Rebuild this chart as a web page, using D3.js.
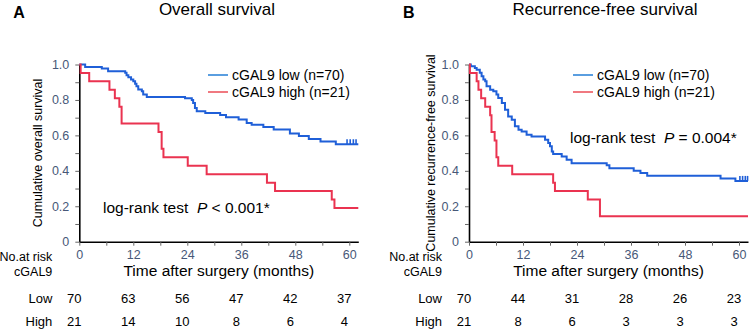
<!DOCTYPE html>
<html>
<head>
<meta charset="utf-8">
<script src="https://cdn.jsdelivr.net/npm/d3@7"></script>
<style>
  body { margin: 0; background: #fff; }
  svg { display: block; font-family: Arial, "Liberation Sans", sans-serif; }
</style>
</head>
<body>
<div id="chart"></div>
<script>
// ---- data ----
const monthTicks = [0, 12, 24, 36, 48, 60];
const riskTimes = [0, 12, 24, 36, 48, 60];

// overall survival, [month, survival after that month]
const osLow = [[0,1],[1.3,0.986],[5,0.977],[6.4,0.962],[10.2,0.953],[10.5,0.939],[10.9,0.928],[11.5,0.915],
  [12,0.906],[12.4,0.891],[12.7,0.877],[13.1,0.859],[13.9,0.849],[14.2,0.83],[15,0.817],[23.5,0.81],[25,0.8],
  [25.3,0.783],[25.7,0.755],[26.1,0.736],[28,0.726],[31.3,0.715],[32.6,0.702],[35.4,0.689],[37.2,0.67],
  [38.3,0.66],[40.9,0.647],[43.2,0.633],[46.8,0.61],[48.8,0.597],[51,0.58],[53.6,0.566],[57,0.55],[62,0.55]];
const osLowCensor = [59.5, 60.2, 60.9, 61.5];
const osHigh = [[0,1],[0.3,0.952],[2.2,0.905],[6.7,0.857],[7.9,0.81],[8.9,0.762],[9.4,0.667],[17.6,0.619],
  [18.3,0.524],[18.7,0.476],[24.1,0.429],[28.3,0.381],[41.7,0.333],[43.5,0.286],[56.1,0.238],[56.7,0.19],[62,0.19]];
const osHighCensor = [];

// recurrence-free survival
const rfsLow = [[0,1],[0.4,0.99],[1.3,0.98],[1.7,0.97],[2.4,0.953],[2.8,0.934],[3.2,0.915],[3.6,0.906],
  [3.9,0.877],[4.7,0.858],[5.4,0.849],[6.1,0.83],[6.5,0.811],[7.3,0.783],[8,0.745],[8.7,0.707],[9.5,0.688],
  [10.2,0.651],[11,0.632],[11.7,0.622],[12.8,0.604],[13.9,0.594],[16.9,0.575],[17.6,0.557],[18,0.538],
  [18.4,0.509],[18.7,0.495],[20.6,0.481],[21.7,0.462],[22.8,0.443],[30.6,0.432],[31.2,0.415],[36.6,0.401],
  [38.1,0.387],[39.6,0.372],[55.9,0.357],[59.2,0.343],[62,0.343]];
const rfsLowCensor = [60.2, 60.8, 61.4, 61.9];
const rfsHigh = [[0,1],[0.2,0.952],[1.7,0.905],[2.1,0.857],[2.7,0.81],[3.6,0.762],[4.7,0.714],[5,0.619],
  [5.7,0.571],[6.1,0.476],[6.5,0.429],[9.6,0.381],[18.7,0.333],[19.1,0.286],[26.4,0.238],[29.1,0.143],[62,0.143]];
const rfsHighCensor = [];

const osRiskLow = [70, 63, 56, 47, 42, 37];
const osRiskHigh = [21, 14, 10, 8, 6, 4];
const rfsRiskLow = [70, 44, 31, 28, 26, 23];
const rfsRiskHigh = [21, 8, 6, 3, 3, 3];

const legendLabels = ["cGAL9 low (n=70)", "cGAL9 high (n=21)"];

const blue = "#1f5fd8", red = "#ea3350";
const tickColor = "#475878";

const W = 749, H = 330;
const svg = d3.select("#chart").append("svg").attr("width", W).attr("height", H);

function panel(opt) {
  const g = svg.append("g");
  const x = d3.scaleLinear().domain([0, 62]).range([opt.left, opt.left + 279]);
  const y = d3.scaleLinear().domain([0, 1]).range([241.7, 64.5]);

  // panel letter and title
  g.append("text").attr("x", opt.left - 66).attr("y", 18)
    .style("font-weight", "bold").style("font-size", "16px").text(opt.letter);
  g.append("text").attr("x", opt.titleX).attr("y", 15).attr("text-anchor", "middle")
    .style("font-size", "17px").text(opt.title);

  // y axis, minor ticks every 0.1, labels every 0.2
  const yAx = g.append("g").attr("transform", "translate(" + opt.left + ",0)")
    .call(d3.axisLeft(y).tickValues(d3.range(0, 1.01, 0.1)).tickSize(4).tickSizeOuter(0)
      .tickFormat(d => Math.round(d * 10) % 2 === 0 ? (d < 0.05 ? "0" : d3.format(".1f")(d)) : ""));
  yAx.select(".domain").attr("stroke", "#000").attr("stroke-width", 1.6);
  yAx.selectAll(".tick line").attr("stroke", "#666");
  yAx.selectAll(".tick text").filter(function() { return this.textContent === ""; }).remove();
  yAx.selectAll(".tick text").attr("x", -10).attr("fill", tickColor)
    .style("font-size", "12.5px").style("font-family", "Arial, sans-serif");

  // x axis, ticks every 6 months, labels every 12
  const xAx = g.append("g").attr("transform", "translate(0,241.7)")
    .call(d3.axisBottom(x).tickValues(d3.range(0, 61, 6)).tickSize(4).tickSizeOuter(0)
      .tickFormat(d => monthTicks.includes(d) ? d : ""));
  xAx.select(".domain").attr("stroke", "#000").attr("stroke-width", 1.6);
  xAx.selectAll(".tick line").attr("stroke", "#666");
  xAx.selectAll(".tick text").filter(function() { return this.textContent === ""; }).remove();
  xAx.selectAll(".tick text").attr("y", 8).attr("fill", tickColor)
    .style("font-size", "12.5px").style("font-family", "Arial, sans-serif");

  // y title
  g.append("text").attr("transform", "translate(" + opt.yTitleX + ",153) rotate(-90)")
    .attr("text-anchor", "middle").style("font-size", "12.5px").text(opt.yTitle);

  // curves
  const line = d3.line().x(d => x(d[0])).y(d => y(d[1])).curve(d3.curveStepAfter);
  [[opt.low, blue, opt.lowCensor], [opt.high, red, opt.highCensor]].forEach(([data, col, cens]) => {
    g.append("path").datum(data).attr("fill", "none").attr("stroke", col)
      .attr("stroke-width", 2).attr("d", line);
    const last = data[data.length - 1][1];
    g.selectAll(null).data(cens).enter().append("line")
      .attr("x1", d => x(d)).attr("x2", d => x(d))
      .attr("y1", y(last)).attr("y2", y(last) - 5)
      .attr("stroke", col).attr("stroke-width", 1.6);
  });

  // legend
  const lg = g.append("g").attr("transform", "translate(" + opt.legendX + ",0)");
  legendLabels.forEach((t, i) => {
    lg.append("line").attr("x1", 0).attr("x2", 20).attr("y1", 75 + i * 17).attr("y2", 75 + i * 17)
      .attr("stroke", i === 0 ? "#5a9ee0" : "#e8303c").attr("stroke-width", i === 0 ? 2 : 1.3);
    lg.append("text").attr("x", 24).attr("y", 79.5 + i * 17).style("font-size", "14px").text(t);
  });

  // log-rank annotation
  const lr = g.append("text").attr("x", opt.lrX).attr("y", opt.lrY).style("font-size", "15.5px");
  lr.append("tspan").text("log-rank test\u00a0\u00a0");
  lr.append("tspan").style("font-style", "italic").text("P");
  lr.append("tspan").text(opt.pText);

  // x title and risk labels
  g.append("text").attr("x", x(31)).attr("y", 276).attr("text-anchor", "middle")
    .style("font-size", "15.5px").text("Time after surgery (months)");
  g.append("text").attr("x", opt.left - 27).attr("y", 261).attr("text-anchor", "end")
    .style("font-size", "12.5px").text("No.at risk");
  g.append("text").attr("x", opt.left - 27).attr("y", 276).attr("text-anchor", "end")
    .style("font-size", "12.5px").text("cGAL9");

  // risk table
  [["Low", opt.riskLow, 303], ["High", opt.riskHigh, 326]].forEach(([lab, vals, yy]) => {
    g.append("text").attr("x", opt.left - 27).attr("y", yy).attr("text-anchor", "end")
      .style("font-size", "13px").text(lab);
    g.selectAll(null).data(vals).enter().append("text")
      .attr("x", (d, i) => x(riskTimes[i]) - 5).attr("y", yy).attr("text-anchor", "middle")
      .style("font-size", "13px").text(d => d);
  });
}

panel({ letter: "A", title: "Overall survival", titleX: 217, left: 79.3, yTitleX: 42,
  yTitle: "Cumulative overall survival", low: osLow, high: osHigh,
  lowCensor: osLowCensor, highCensor: osHighCensor, legendX: 208,
  lrX: 103, lrY: 213, pText: " < 0.001*", riskLow: osRiskLow, riskHigh: osRiskHigh });

panel({ letter: "B", title: "Recurrence-free survival", titleX: 605, left: 469, yTitleX: 435,
  yTitle: "Cumulative recurrence-free survival", low: rfsLow, high: rfsHigh,
  lowCensor: rfsLowCensor, highCensor: rfsHighCensor, legendX: 573,
  lrX: 570, lrY: 143, pText: " = 0.004*", riskLow: rfsRiskLow, riskHigh: rfsRiskHigh });
</script>
</body>
</html>
